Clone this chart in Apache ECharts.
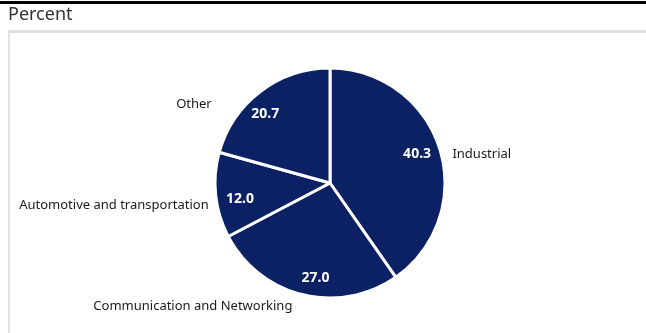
<!DOCTYPE html>
<html>
<head>
<meta charset="utf-8">
<script src="https://cdn.jsdelivr.net/npm/echarts@6/dist/echarts.min.js"></script>
<style>
html,body{margin:0;padding:0;background:#fff;}
#c{width:646px;height:333px;}
</style>
</head>
<body>
<div id="c"></div>
<script>
const categories = ["Industrial", "Communication and Networking", "Automotive and transportation", "Other"];
const values = [40.3, 27.0, 12.0, 20.7];
const titleText = "Percent";

const chart = echarts.init(document.getElementById('c'), null, {renderer: 'canvas'});
const navy = '#0b2163';
const data = categories.map((n, i) => ({name: n, value: values[i]}));

// label nudges (layout only)
const outerShift = [[-2, 8], [0, 6], [8, 9], [-36, 18]];
const innerShift = [[-4, 0], [8, 2], [5, 6], [-7, 7]];

chart.setOption({
  animation: false,
  backgroundColor: '#fff',
  graphic: [
    {type: 'rect', shape: {x: 0, y: 1, width: 646, height: 3}, style: {fill: '#000'}},
    {type: 'text', left: 8, top: 6, style: {text: titleText, font: '18px "Noto Sans"', fill: '#333'}},
    {type: 'rect', shape: {x: 8, y: 30, width: 638, height: 3}, style: {fill: '#dedede'}},
    {type: 'rect', shape: {x: 8, y: 30, width: 2, height: 303}, style: {fill: '#e2e2e2'}}
  ],
  series: [
    {
      type: 'pie',
      center: [330, 183],
      radius: [0, 115],
      startAngle: 90,
      clockwise: true,
      avoidLabelOverlap: false,
      itemStyle: {color: navy, borderColor: '#fff', borderWidth: 3},
      label: {show: true, position: 'outside', formatter: '{b}', color: '#1a1a1a', fontFamily: 'Noto Sans', fontSize: 13},
      labelLine: {show: false, length: 6, length2: 4},
      labelLayout: p => ({dx: outerShift[p.dataIndex][0], dy: outerShift[p.dataIndex][1]}),
      emphasis: {disabled: true},
      data: data
    },
    {
      type: 'pie',
      center: [330, 183],
      radius: [70, 115],
      startAngle: 90,
      clockwise: true,
      silent: true,
      itemStyle: {color: 'rgba(0,0,0,0)', borderWidth: 0},
      label: {show: true, position: 'inside', formatter: p => p.value.toFixed(1), color: '#fff', fontFamily: 'Noto Sans', fontWeight: 'bold', fontSize: 14},
      labelLine: {show: false},
      labelLayout: p => ({dx: innerShift[p.dataIndex][0], dy: innerShift[p.dataIndex][1]}),
      emphasis: {disabled: true},
      data: data
    }
  ]
});
</script>
</body>
</html>
